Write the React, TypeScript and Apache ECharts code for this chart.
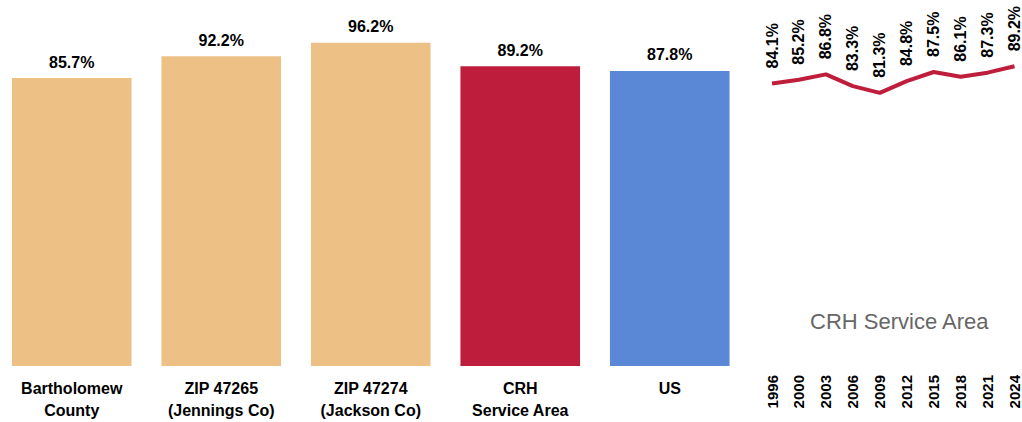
import React, { useEffect, useRef } from "react";
import * as echarts from "echarts";

const barCategories = [
  "Bartholomew\nCounty",
  "ZIP 47265\n(Jennings Co)",
  "ZIP 47274\n(Jackson Co)",
  "CRH\nService Area",
  "US",
];
const barValues = [85.7, 92.2, 96.2, 89.2, 87.8];
const barColors = ["#EDC185", "#EDC185", "#EDC185", "#BE1E3C", "#5B87D7"];

const years = ["1996", "2000", "2003", "2006", "2009", "2012", "2015", "2018", "2021", "2024"];
const trendValues = [84.1, 85.2, 86.8, 83.3, 81.3, 84.8, 87.5, 86.1, 87.3, 89.2];
const trendTitle = "CRH Service Area";

const FONT = '"Liberation Sans Narrow", "Arial Narrow", "Liberation Sans", Arial, sans-serif';

export default function App() {
  const ref = useRef<HTMLDivElement>(null);
  useEffect(() => {
    if (!ref.current) return;
    const chart = echarts.init(ref.current, null, { renderer: "svg" });
    chart.setOption({
      animation: false,
      backgroundColor: "#ffffff",
      title: {
        text: trendTitle,
        left: 808,
        top: 305,
        textStyle: { fontFamily: "Liberation Sans, Arial, sans-serif", fontSize: 22, fontWeight: "normal", color: "#666666" },
      },
      grid: [
        { left: 0, width: 747.5, top: 30, bottom: 56 },
        { left: 775, right: 6, top: 30, bottom: 56 },
      ],
      xAxis: [
        {
          type: "category",
          gridIndex: 0,
          data: barCategories,
          axisLine: { show: false },
          axisTick: { show: false },
          axisLabel: {
            margin: 11,
            fontFamily: FONT,
            fontSize: 16,
            fontWeight: "bold",
            color: "#000",
            lineHeight: 22,
            interval: 0,
          },
        },
        {
          type: "category",
          gridIndex: 1,
          data: years,
          boundaryGap: false,
          axisLine: { show: false },
          axisTick: { show: false },
          axisLabel: {
            rotate: 90,
            margin: 9,
            fontFamily: FONT,
            fontSize: 15,
            fontWeight: "bold",
            color: "#000",
            interval: 0,
          },
        },
      ],
      yAxis: [
        { type: "value", gridIndex: 0, min: 0, max: 100, show: false, splitLine: { show: false } },
        { type: "value", gridIndex: 1, min: 0, max: 100, show: false, splitLine: { show: false } },
      ],
      series: [
        {
          type: "bar",
          xAxisIndex: 0,
          yAxisIndex: 0,
          barCategoryGap: "20%",
          data: barValues.map((v, i) => ({ value: v, itemStyle: { color: barColors[i] } })),
          label: {
            show: true,
            position: "top",
            distance: 8,
            formatter: (p: any) => p.value.toFixed(1) + "%",
            fontFamily: FONT,
            fontSize: 16,
            fontWeight: "bold",
            color: "#000",
          },
        },
        {
          type: "line",
          xAxisIndex: 1,
          yAxisIndex: 1,
          data: trendValues,
          showSymbol: true,
          symbol: "circle",
          symbolSize: 0,
          lineStyle: { color: "#BE1E3C", width: 4 },
          itemStyle: { color: "#BE1E3C" },
          label: {
            show: true,
            position: "top",
            distance: 15,
            rotate: 90,
            align: "left",
            verticalAlign: "middle",
            formatter: (p: any) => p.value.toFixed(1) + "%",
            fontFamily: FONT,
            fontSize: 16,
            fontWeight: "bold",
            color: "#000",
          },
        },
      ],
    });
    return () => chart.dispose();
  }, []);
  return (
    <div
      ref={ref}
      style={{ position: "fixed", left: -3, top: 0, width: 1025, height: 422 }}
    />
  );
}
